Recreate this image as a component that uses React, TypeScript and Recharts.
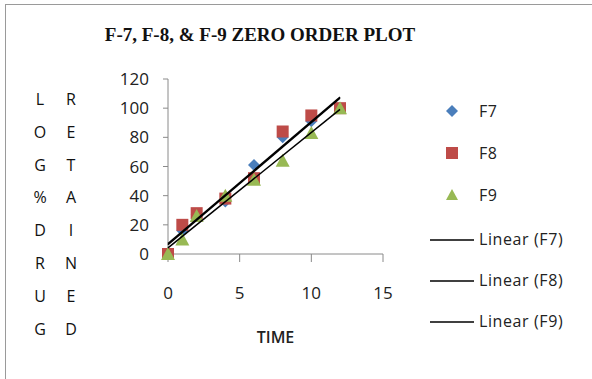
import { ScatterChart, Scatter, XAxis, YAxis, Legend } from 'recharts'

// time points
const times = [0, 1, 2, 4, 6, 8, 10, 12]
const f7 = [0, 16, 27, 36, 61, 80, 91, 100]
const f8 = [0, 20, 28, 38, 52, 84, 95, 100]
const f9 = [0, 10, 26, 40, 51, 64, 83, 100]

const xTicks = [0, 5, 10, 15]
const yTicks = [0, 20, 40, 60, 80, 100, 120]
const axisLeft = ['L', 'O', 'G', '%', 'D', 'R', 'U', 'G']
const axisRight = ['R', 'E', 'T', 'A', 'I', 'N', 'E', 'D']

const BLUE = '#4a7ebb'
const RED = '#be4b48'
const GREEN = '#98b954'
const SANS = '"Open Sans", "Liberation Sans", sans-serif'

const toPoints = (ys: number[]) => times.map((t, i) => ({ x: t, y: ys[i] }))

// least squares trendline, drawn from first to last time
const trend = (ys: number[]) => {
  const n = times.length
  const mx = times.reduce((a, b) => a + b, 0) / n
  const my = ys.reduce((a, b) => a + b, 0) / n
  let sxy = 0
  let sxx = 0
  times.forEach((t, i) => {
    sxy += (t - mx) * (ys[i] - my)
    sxx += (t - mx) * (t - mx)
  })
  const slope = sxy / sxx
  const icpt = my - slope * mx
  const x0 = times[0]
  const x1 = times[n - 1]
  return [{ x: x0, y: icpt + slope * x0 }, { x: x1, y: icpt + slope * x1 }]
}

const Diamond = (p: any) => (
  <path d={`M${p.cx},${p.cy - 6} L${p.cx + 6},${p.cy} L${p.cx},${p.cy + 6} L${p.cx - 6},${p.cy} Z`} fill={BLUE} />
)
const Square = (p: any) => <rect x={p.cx - 6} y={p.cy - 6} width={12} height={12} fill={RED} />
const Triangle = (p: any) => (
  <path d={`M${p.cx},${p.cy - 7} L${p.cx + 7},${p.cy + 6} L${p.cx - 7},${p.cy + 6} Z`} fill={GREEN} />
)
const Nothing = () => null

const legendRows = [
  { label: 'F7', kind: 'diamond' },
  { label: 'F8', kind: 'square' },
  { label: 'F9', kind: 'triangle' },
  { label: 'Linear (F7)', kind: 'line' },
  { label: 'Linear (F8)', kind: 'line' },
  { label: 'Linear (F9)', kind: 'line' },
]

const LegendBox = () => (
  <div style={{ position: 'relative', width: 150, height: 0 }}>
    {legendRows.map((r, i) => {
      const top = i < 3 ? i * 42 : 128 + (i - 3) * 41
      let icon
      if (r.kind === 'diamond') icon = <svg width={14} height={14} style={{ position: 'absolute', left: 15, top: 4 }}><path d="M7,1 L13,7 L7,13 L1,7 Z" fill={BLUE} /></svg>
      else if (r.kind === 'square') icon = <svg width={14} height={14} style={{ position: 'absolute', left: 15, top: 4 }}><rect x={1} y={1} width={12} height={12} fill={RED} /></svg>
      else if (r.kind === 'triangle') icon = <svg width={14} height={14} style={{ position: 'absolute', left: 15, top: 4 }}><path d="M7,1 L13,12 L1,12 Z" fill={GREEN} /></svg>
      else icon = <svg width={44} height={4} style={{ position: 'absolute', left: 0, top: 10 }}><line x1={0} y1={2} x2={44} y2={2} stroke="#000" strokeWidth={1.5} /></svg>
      return (
        <div key={r.label} style={{ position: 'absolute', top, left: 0, height: 22, width: 150 }}>
          {icon}
          <span style={{ position: 'absolute', left: 49, top: 0, fontFamily: SANS, fontSize: 16, letterSpacing: 0.6, color: '#222', whiteSpace: 'nowrap' }}>{r.label}</span>
        </div>
      )
    })}
  </div>
)

export default function App() {
  return (
    <div style={{ position: 'absolute', left: 0, top: 0, width: 592, height: 379, background: '#fff', overflow: 'hidden' }}>
      <div style={{ position: 'absolute', left: 5, top: 4, width: 600, height: 400, borderTop: '1px solid #9a9a9a', borderLeft: '1px solid #9a9a9a' }} />
      <div style={{ position: 'absolute', left: 0, top: 24, width: 520, textAlign: 'center', fontFamily: '"Liberation Serif", serif', fontWeight: 'bold', fontSize: 19, color: '#111' }}>
        F-7, F-8, &amp; F-9 ZERO ORDER PLOT
      </div>
      {axisLeft.map((c, i) => (
        <div key={'l' + i} style={{ position: 'absolute', left: 30, width: 20, textAlign: 'center', top: 88 + i * 32.8, fontFamily: SANS, fontSize: 16, fontWeight: 500, color: '#111' }}>{c}</div>
      ))}
      {axisRight.map((c, i) => (
        <div key={'r' + i} style={{ position: 'absolute', left: 61, width: 20, textAlign: 'center', top: 88 + i * 32.8, fontFamily: SANS, fontSize: 16, fontWeight: 500, color: '#111' }}>{c}</div>
      ))}
      <div style={{ position: 'absolute', left: 0, top: 0 }}>
        <ScatterChart width={592} height={379} margin={{ top: 79, right: 209, bottom: 20, left: 108 }}>
          <XAxis
            type="number"
            dataKey="x"
            domain={[0, 15]}
            ticks={xTicks}
            tickSize={8}
            tickMargin={25}
            height={105}
            stroke="#8a8a8a"
            tick={{ fill: '#222', fontSize: 17, fontFamily: SANS }}
            label={{ value: 'TIME', position: 'insideBottom', offset: 16, fill: '#222', fontSize: 16, fontWeight: 600, fontFamily: SANS }}
          />
          <YAxis
            type="number"
            dataKey="y"
            domain={[0, 120]}
            ticks={yTicks}
            tickSize={5}
            tickMargin={14}
            width={60}
            stroke="#8a8a8a"
            tick={{ fill: '#222', fontSize: 17, fontFamily: SANS }}
          />
          <Scatter name="F7" data={toPoints(f7)} shape={Diamond} isAnimationActive={false} />
          <Scatter name="F8" data={toPoints(f8)} shape={Square} isAnimationActive={false} />
          <Scatter name="F9" data={toPoints(f9)} shape={Triangle} isAnimationActive={false} />
          <Scatter name="Linear (F7)" data={trend(f7)} line={{ stroke: '#000', strokeWidth: 1.5 }} shape={Nothing} isAnimationActive={false} />
          <Scatter name="Linear (F8)" data={trend(f8)} line={{ stroke: '#000', strokeWidth: 1.5 }} shape={Nothing} isAnimationActive={false} />
          <Scatter name="Linear (F9)" data={trend(f9)} line={{ stroke: '#000', strokeWidth: 1.5 }} shape={Nothing} isAnimationActive={false} />
          <Legend content={LegendBox} wrapperStyle={{ position: 'absolute', left: 430, top: 100, width: 150, height: 0 }} />
        </ScatterChart>
      </div>
    </div>
  )
}
